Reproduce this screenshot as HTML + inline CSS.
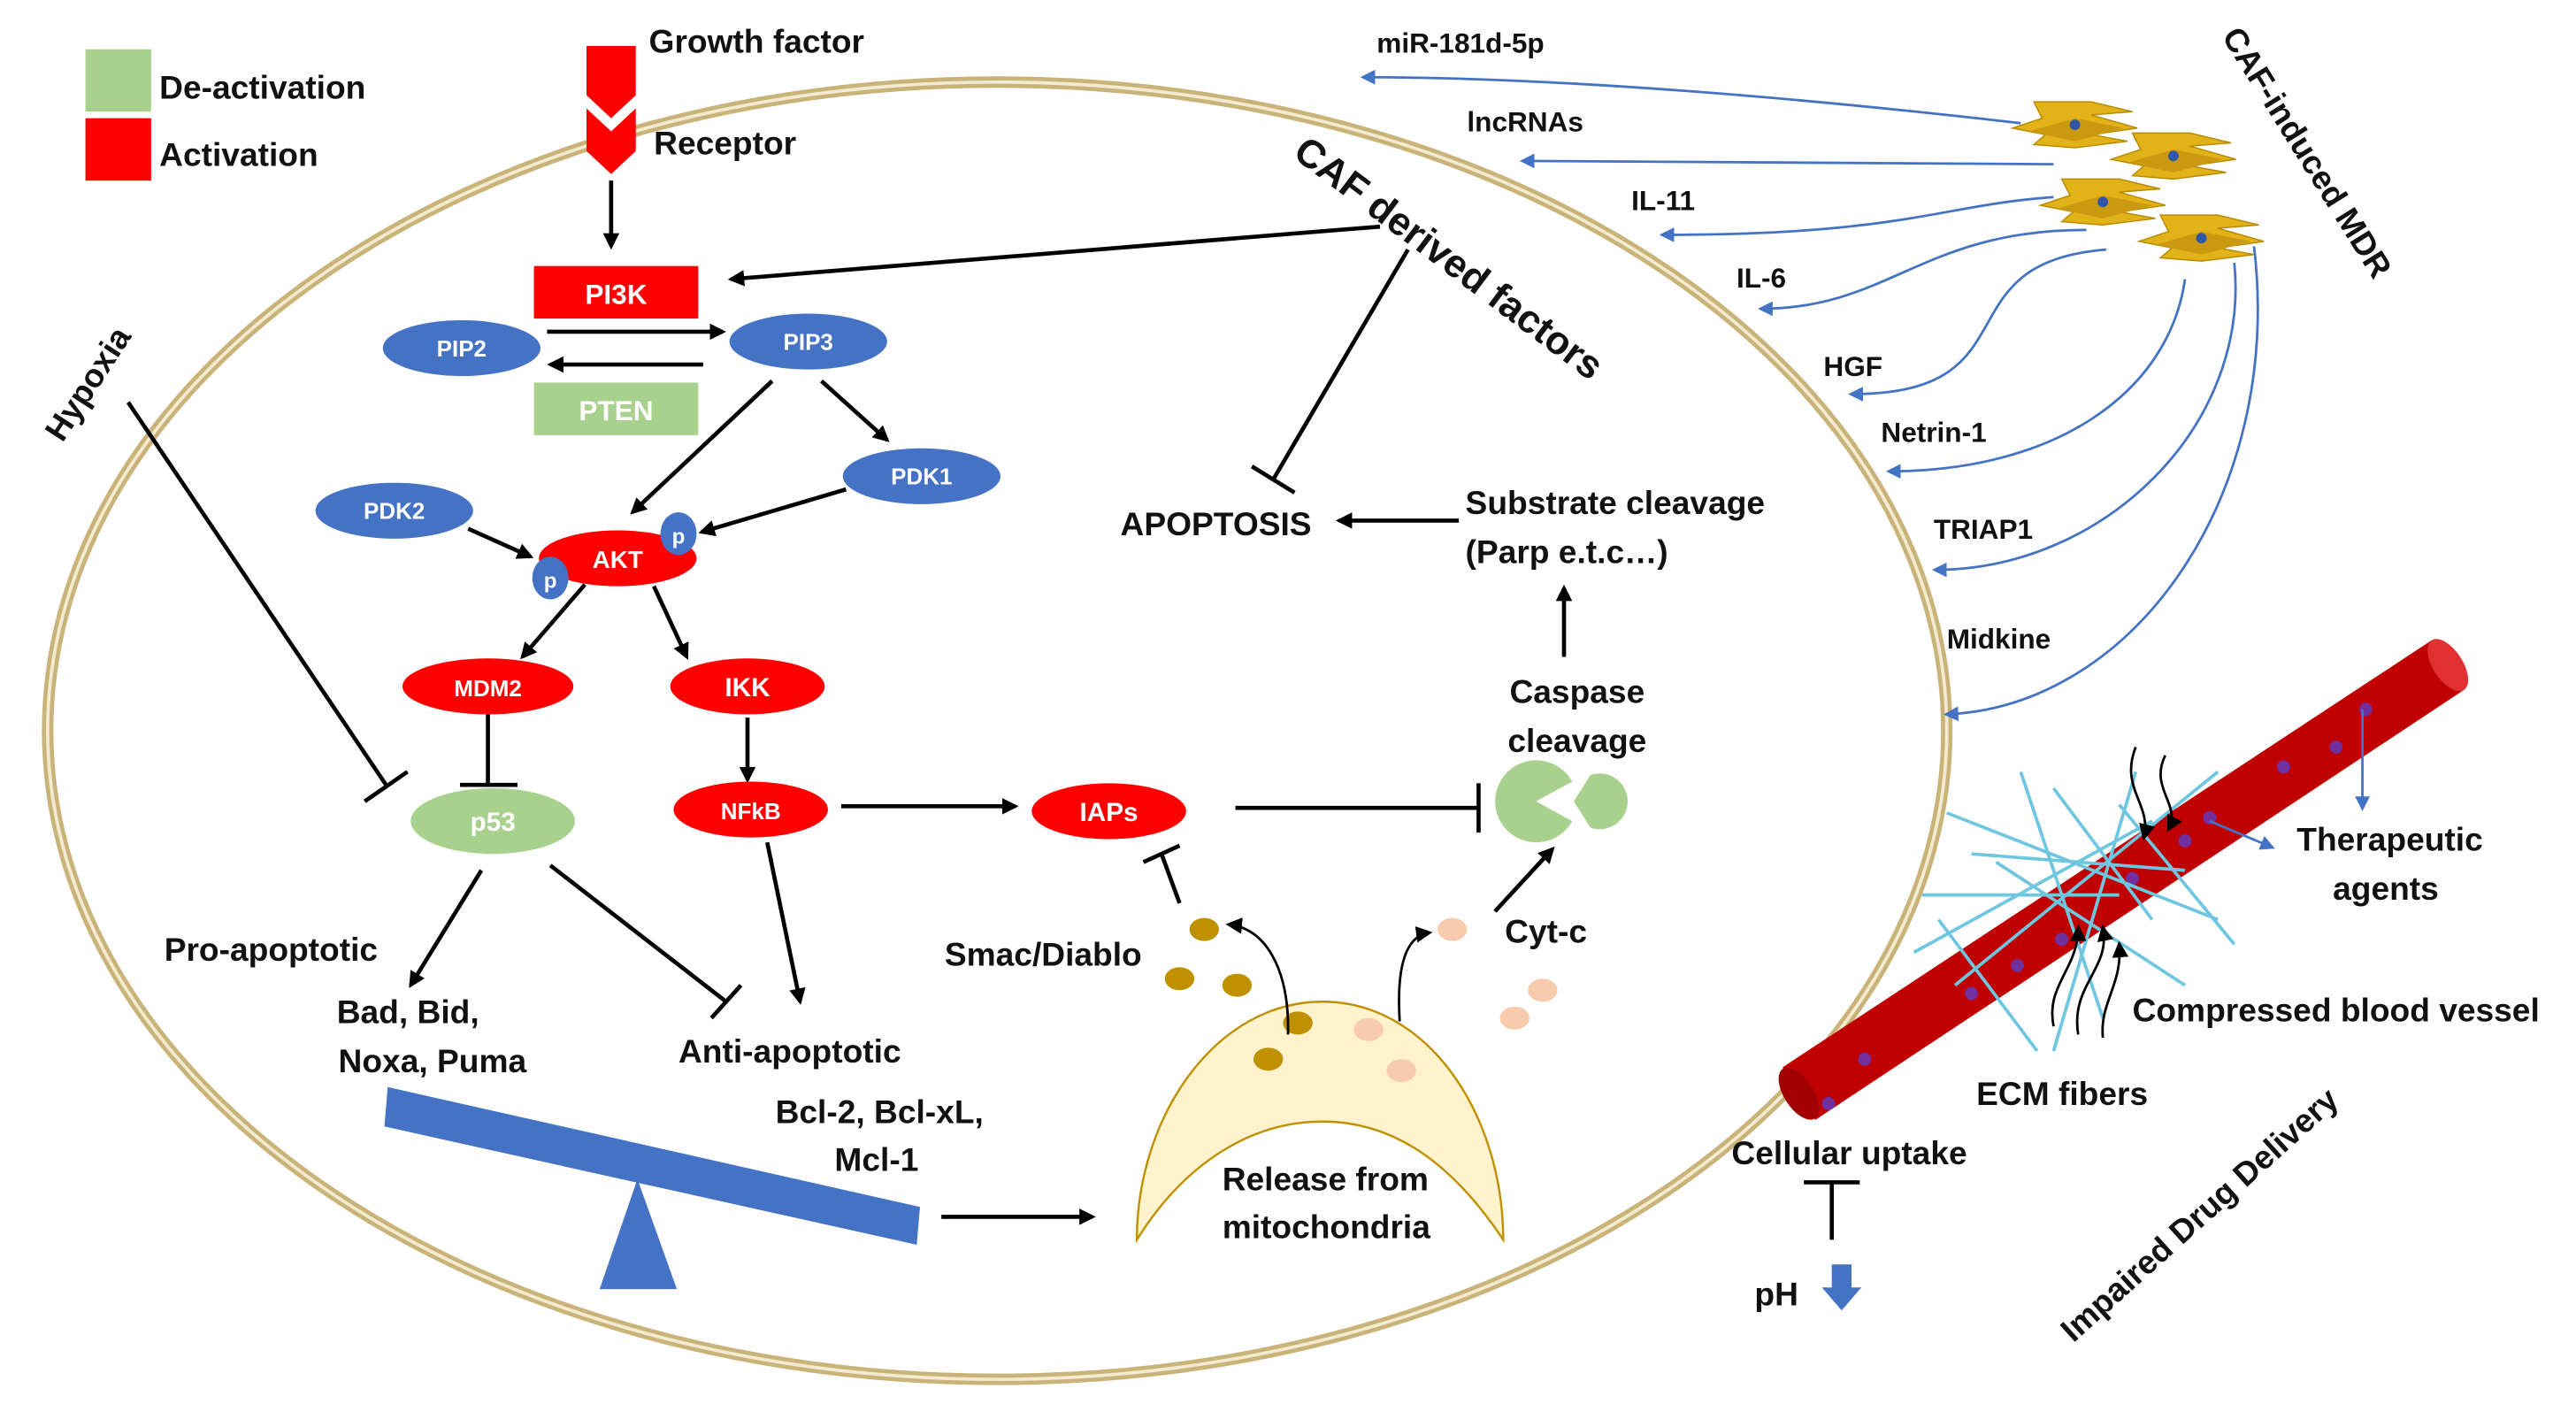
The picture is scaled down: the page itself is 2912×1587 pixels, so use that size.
<!DOCTYPE html>
<html><head><meta charset="utf-8"><style>
html,body{margin:0;padding:0;background:#fff;}
svg{display:block;}
text{font-family:"Liberation Sans",sans-serif;font-weight:bold;fill:#111;}
</style></head><body>
<svg width="2912" height="1587" viewBox="0 0 1568 855" preserveAspectRatio="none" xmlns="http://www.w3.org/2000/svg">
<defs>
<marker id="ah" markerWidth="10" markerHeight="10" refX="8" refY="5" orient="auto" markerUnits="userSpaceOnUse"><path d="M0,0 L10,5 L0,10 Z" fill="#000"/></marker>
<marker id="bh" markerWidth="9" markerHeight="9" refX="7" refY="4.5" orient="auto" markerUnits="userSpaceOnUse"><path d="M0,0 L9,4.5 L0,9 Z" fill="#4472c4"/></marker>
<g id="caf">
<path d="M-38,2 L-20,-4 L-25,-14 L10,-14 L35,-8 L10,-6 L38,2 L10,6 L32,10 L0,14 L-25,12 L-18,6 Z" fill="#e2b318" stroke="#b88a00" stroke-width="0.8"/>
<path d="M-28,4 L0,-4 L30,2 L0,10 Z" fill="#c99a10"/>
<circle cx="0" cy="0" r="3.2" fill="#2f55a8"/>
</g>
</defs>
<ellipse cx="607" cy="445" rx="578" ry="395" fill="none" stroke="#c9b378" stroke-width="7"/>
<ellipse cx="607" cy="445" rx="578" ry="395" fill="none" stroke="#f3ead0" stroke-width="2"/>
<rect x="52" y="30" width="40" height="38" fill="#a9d18e"/>
<rect x="52" y="72" width="40" height="38" fill="#f00"/>
<text x="97" y="60" font-size="20">De-activation</text>
<text x="97" y="101" font-size="20">Activation</text>
<path d="M357,28 L387,28 L387,58 L372,72 L357,58 Z" fill="#f00"/>
<path d="M357,66 L372,80 L387,66 L387,92 L372,106 L357,92 Z" fill="#f00"/>
<text x="395" y="32" font-size="20">Growth factor</text>
<text x="398" y="94" font-size="20">Receptor</text>
<g stroke="#000" stroke-width="2.5" fill="none" marker-end="url(#ah)">
<line x1="372" y1="110" x2="372" y2="150"/>
<line x1="333" y1="202" x2="440" y2="202"/>
<line x1="428" y1="222" x2="335" y2="222"/>
<line x1="470" y1="232" x2="385" y2="312"/>
<line x1="500" y1="232" x2="540" y2="268"/>
<line x1="285" y1="322" x2="323" y2="339"/>
<line x1="515" y1="298" x2="427" y2="324"/>
<line x1="356" y1="356" x2="318" y2="400"/>
<line x1="398" y1="357" x2="418" y2="400"/>
<line x1="455" y1="437" x2="455" y2="475"/>
<line x1="512" y1="491" x2="618" y2="491"/>
<line x1="840" y1="138" x2="445" y2="170"/>
<line x1="952" y1="400" x2="952" y2="358"/>
<line x1="888" y1="317" x2="815" y2="317"/>
<line x1="293" y1="530" x2="250" y2="600"/>
<line x1="467" y1="513" x2="487" y2="610"/>
<line x1="573" y1="741" x2="665" y2="741"/>
<line x1="910" y1="555" x2="945" y2="517"/>
</g>
<g stroke="#000" stroke-width="2.5" fill="none">
<line x1="297" y1="435" x2="297" y2="478"/><line x1="280" y1="478" x2="315" y2="478"/>
<line x1="752" y1="492" x2="900" y2="492"/><line x1="900" y1="477" x2="900" y2="507"/>
<line x1="857" y1="152" x2="775" y2="292"/><line x1="762" y1="284" x2="788" y2="300"/>
<line x1="78" y1="245" x2="235" y2="478"/><line x1="222" y1="488" x2="248" y2="470"/>
<line x1="335" y1="527" x2="442" y2="610"/><line x1="433" y1="620" x2="451" y2="600"/>
<line x1="718" y1="550" x2="707" y2="520"/><line x1="696" y1="525" x2="718" y2="515"/>
<line x1="1115" y1="720" x2="1115" y2="755"/><line x1="1098" y1="720" x2="1132" y2="720"/>
</g>
<rect x="325" y="162" width="100" height="32" fill="#f00"/><text x="375" y="185" font-size="17" style="fill:#fff" text-anchor="middle">PI3K</text>
<rect x="325" y="233" width="100" height="32" fill="#a9d18e"/><text x="375" y="256" font-size="17" style="fill:#fff" text-anchor="middle">PTEN</text>
<g text-anchor="middle">
<ellipse cx="281" cy="212" rx="48" ry="17" fill="#4472c4"/><text x="281" y="217" style="fill:#fff" font-size="14">PIP2</text>
<ellipse cx="492" cy="208" rx="48" ry="17" fill="#4472c4"/><text x="492" y="213" style="fill:#fff" font-size="14">PIP3</text>
<ellipse cx="240" cy="311" rx="48" ry="17" fill="#4472c4"/><text x="240" y="316" style="fill:#fff" font-size="14">PDK2</text>
<ellipse cx="561" cy="290" rx="48" ry="17" fill="#4472c4"/><text x="561" y="295" style="fill:#fff" font-size="14">PDK1</text>
<ellipse cx="376" cy="340" rx="48" ry="17" fill="#f00"/><text x="376" y="346" style="fill:#fff" font-size="15">AKT</text>
<ellipse cx="335" cy="352" rx="11" ry="13" fill="#4472c4"/><text x="335" y="358" style="fill:#fff" font-size="13">p</text>
<ellipse cx="413" cy="325" rx="11" ry="13" fill="#4472c4"/><text x="413" y="331" style="fill:#fff" font-size="13">p</text>
<ellipse cx="297" cy="418" rx="52" ry="17" fill="#f00"/><text x="297" y="424" style="fill:#fff" font-size="14">MDM2</text>
<ellipse cx="455" cy="418" rx="47" ry="17" fill="#f00"/><text x="455" y="424" style="fill:#fff" font-size="16">IKK</text>
<ellipse cx="300" cy="500" rx="50" ry="20" fill="#a9d18e"/><text x="300" y="506" style="fill:#fff" font-size="16">p53</text>
<ellipse cx="457" cy="493" rx="47" ry="17" fill="#f00"/><text x="457" y="499" style="fill:#fff" font-size="14">NFkB</text>
<ellipse cx="675" cy="494" rx="47" ry="17" fill="#f00"/><text x="675" y="500" style="fill:#fff" font-size="16">IAPs</text>
</g>
<path d="M935,488 L957,476 A25,25 0 1 0 957,500 Z" fill="#a9d18e"/>
<path d="M958,488 L968,472 A17,17 0 1 1 968,504 Z" fill="#a9d18e"/>
<g font-size="20">
<text x="960" y="428" text-anchor="middle">Caspase</text>
<text x="960" y="458" text-anchor="middle">cleavage</text>
<text x="892" y="313">Substrate cleavage</text>
<text x="892" y="343">(Parp e.t.c…)</text>
<text x="682" y="326">APOPTOSIS</text>
<text x="100" y="585">Pro-apoptotic</text>
<text x="205" y="623">Bad, Bid,</text>
<text x="206" y="653">Noxa, Puma</text>
<text x="413" y="647">Anti-apoptotic</text>
<text x="472" y="684">Bcl-2, Bcl-xL,</text>
<text x="508" y="713">Mcl-1</text>
<text x="575" y="588">Smac/Diablo</text>
<text x="916" y="574">Cyt-c</text>
</g>
<text font-size="24" transform="translate(786,95) rotate(37)">CAF derived factors</text>
<text font-size="20" transform="translate(38,270) rotate(-57)">Hypoxia</text>
<path d="M236,662 L560,735 L558,758 L234,686 Z" fill="#4472c4"/>
<path d="M365,785 L388,718 L412,785 Z" fill="#4472c4"/>
<!-- mitochondria -->
<path d="M692,755 C692,680 740,610 805,610 C870,610 915,680 915,755 C885,710 850,683 805,683 C760,683 720,710 692,755 Z" fill="#fff2cc" stroke="#bf9000" stroke-width="1.3"/>
<g font-size="20">
<text x="744" y="725">Release from</text>
<text x="744" y="754">mitochondria</text>
</g>
<g fill="#bf9000">
<ellipse cx="790" cy="623" rx="9" ry="7"/><ellipse cx="772" cy="645" rx="9" ry="7"/><ellipse cx="733" cy="566" rx="9" ry="7"/><ellipse cx="718" cy="596" rx="9" ry="7"/><ellipse cx="753" cy="600" rx="9" ry="7"/>
</g>
<g fill="#f8cbad">
<ellipse cx="833" cy="627" rx="9" ry="7"/><ellipse cx="853" cy="652" rx="9" ry="7"/><ellipse cx="884" cy="566" rx="9" ry="7"/><ellipse cx="939" cy="603" rx="9" ry="7"/><ellipse cx="922" cy="620" rx="9" ry="7"/>
</g>
<g stroke="#000" stroke-width="1.5" fill="none" marker-end="url(#ah)">
<path d="M784,630 C785,590 770,565 748,563"/>
<path d="M852,622 C850,590 855,570 870,568"/>
</g>
<g stroke="#4472c4" stroke-width="1.5" fill="none" marker-end="url(#bh)">
<path d="M1230,75 C1100,60 950,47 830,47"/>
<path d="M1250,100 C1150,100 1050,98 927,98"/>
<path d="M1250,120 C1180,125 1160,143 1012,143"/>
<path d="M1270,140 C1170,140 1150,188 1072,188"/>
<path d="M1282,152 C1180,160 1240,240 1127,240"/>
<path d="M1330,170 C1320,240 1250,287 1150,287"/>
<path d="M1360,160 C1370,260 1280,347 1178,347"/>
<path d="M1372,150 C1390,300 1300,430 1185,435"/>
</g>
<g font-size="17">
<text x="838" y="32">miR-181d-5p</text>
<text x="893" y="80">lncRNAs</text>
<text x="993" y="128">IL-11</text>
<text x="1057" y="175">IL-6</text>
<text x="1110" y="229">HGF</text>
<text x="1145" y="269">Netrin-1</text>
<text x="1177" y="328">TRIAP1</text>
<text x="1185" y="395">Midkine</text>
</g>
<use href="#caf" x="1263" y="76"/>
<use href="#caf" x="1323" y="95"/>
<use href="#caf" x="1280" y="123"/>
<use href="#caf" x="1340" y="145"/>
<text font-size="20" transform="translate(1352,22) rotate(58)">CAF-induced MDR</text>
<path d="M1085,650 L1480,390 L1500,420 L1105,682 Z" fill="#c00000"/>
<ellipse cx="1490" cy="405" rx="9" ry="18" transform="rotate(-33 1490 405)" fill="#e03030"/>
<ellipse cx="1095" cy="666" rx="9" ry="18" transform="rotate(-33 1095 666)" fill="#a00000"/>
<g fill="#7030a0">
<circle cx="1113" cy="672" r="4"/><circle cx="1135" cy="645" r="4"/><circle cx="1200" cy="605" r="4"/><circle cx="1228" cy="588" r="4"/><circle cx="1255" cy="572" r="4"/><circle cx="1298" cy="535" r="4"/><circle cx="1345" cy="498" r="4"/><circle cx="1330" cy="512" r="4"/><circle cx="1390" cy="467" r="4"/><circle cx="1422" cy="455" r="4"/><circle cx="1440" cy="432" r="4"/>
</g>
<g stroke="#6ec6e0" stroke-width="2" fill="none">
<path d="M1185,495 L1350,560"/><path d="M1200,520 L1330,530"/><path d="M1165,580 L1310,500"/><path d="M1180,560 L1240,640"/><path d="M1250,480 L1310,560"/><path d="M1230,470 L1280,620"/><path d="M1190,600 L1350,470"/><path d="M1290,490 L1360,575"/><path d="M1215,525 L1330,600"/><path d="M1170,545 L1290,545"/><path d="M1300,470 L1250,640"/>
</g>
<g stroke="#000" stroke-width="1.5" fill="none" marker-end="url(#ah)">
<path d="M1300,455 C1290,480 1310,490 1305,510"/><path d="M1318,460 C1308,480 1328,490 1320,505"/>
<path d="M1250,625 C1245,600 1265,590 1265,565"/><path d="M1265,630 C1260,600 1285,590 1280,565"/><path d="M1280,632 C1278,610 1292,600 1290,575"/>
</g>
<g stroke="#4472c4" stroke-width="1.5" marker-end="url(#bh)" fill="none">
<line x1="1345" y1="500" x2="1383" y2="516"/><line x1="1438" y1="432" x2="1438" y2="492"/>
</g>
<g font-size="20">
<text x="1398" y="518">Therapeutic</text>
<text x="1420" y="548">agents</text>
<text x="1298" y="622">Compressed blood vessel</text>
<text x="1203" y="673">ECM fibers</text>
<text x="1054" y="709">Cellular uptake</text>
<text x="1068" y="795">pH</text>
</g>
<path d="M1115,770 L1127,770 L1127,784 L1133,784 L1121,798 L1109,784 L1115,784 Z" fill="#4472c4"/>
<text font-size="20" transform="translate(1262,818) rotate(-42)">Impaired Drug Delivery</text>
</svg>
</body></html>
